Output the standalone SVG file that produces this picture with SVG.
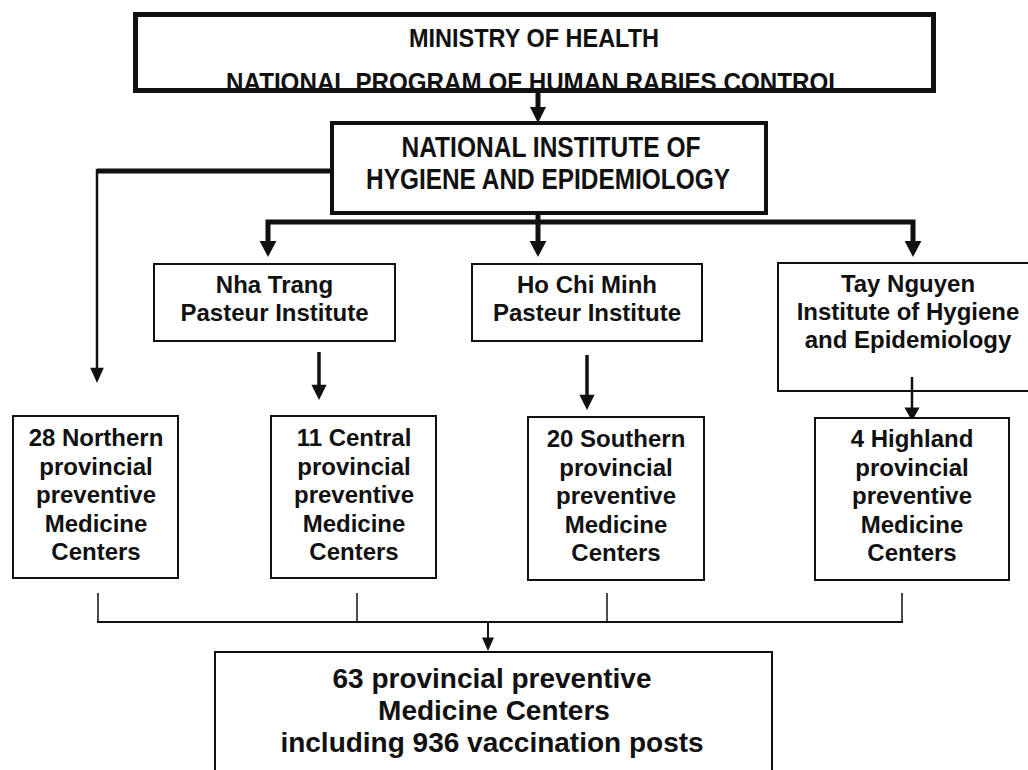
<svg xmlns="http://www.w3.org/2000/svg" xmlns:xlink="http://www.w3.org/1999/xlink" width="1028" height="770" viewBox="0 0 1028 770">
<style>
  .box { fill: #fff; stroke: #111; }
  .t { font-family: "Liberation Sans", Arial, sans-serif; font-weight: bold; fill: #111; text-anchor: middle; }
  .n { font-size: 26px; }
  .h { font-size: 29px; }
  .m { font-size: 24px; }
  .b { font-size: 28px; }
  .ln { fill: none; stroke: #111; }
  .hd { fill: #111; }
</style>
<defs>
  <path id="head" d="M-8,-16 L8,-16 L0,0 Z"/>
  <clipPath id="topclip"><rect x="133" y="12" width="803" height="76"/></clipPath>
</defs>
<rect width="1028" height="770" fill="#fff"/>

<g id="connectors">
  <line class="ln" x1="538" y1="93" x2="538" y2="110" stroke-width="5"/>
  <use xlink:href="#head" class="hd" transform="translate(538,123)"/>
  <polyline class="ln" points="332,171 97,171" stroke-width="5"/>
  <line class="ln" x1="97" y1="169" x2="97" y2="372" stroke-width="2.5"/>
  <use xlink:href="#head" class="hd" transform="translate(97,383) scale(0.85,0.95)"/>
  <line class="ln" x1="538" y1="213" x2="538" y2="244" stroke-width="5"/>
  <polyline class="ln" points="268,244 268,222 913,222 913,244" stroke-width="5"/>
  <use xlink:href="#head" class="hd" transform="translate(268,257) scale(1.05,1)"/>
  <use xlink:href="#head" class="hd" transform="translate(538,257) scale(1.05,1)"/>
  <use xlink:href="#head" class="hd" transform="translate(913,257) scale(1.05,1)"/>
  <line class="ln" x1="319" y1="352" x2="319" y2="388" stroke-width="3.5"/>
  <use xlink:href="#head" class="hd" transform="translate(319,400) scale(0.95,0.95)"/>
  <line class="ln" x1="587" y1="355" x2="587" y2="398" stroke-width="3.5"/>
  <use xlink:href="#head" class="hd" transform="translate(587,410) scale(0.95,0.95)"/>
  <line class="ln" x1="912" y1="377" x2="912" y2="410" stroke-width="2.5"/>
  <use xlink:href="#head" class="hd" transform="translate(912,421) scale(0.95,0.85)"/>
  <line class="ln" x1="98" y1="593" x2="98" y2="622" stroke-width="1.5"/>
  <line class="ln" x1="357" y1="593" x2="357" y2="622" stroke-width="1.5"/>
  <line class="ln" x1="607" y1="593" x2="607" y2="622" stroke-width="1.5"/>
  <line class="ln" x1="902" y1="593" x2="902" y2="622" stroke-width="1.5"/>
  <line class="ln" x1="97" y1="622" x2="903" y2="622" stroke-width="2"/>
  <line class="ln" x1="488" y1="622" x2="488" y2="640" stroke-width="2"/>
  <use xlink:href="#head" class="hd" transform="translate(488,651) scale(0.75,0.85)"/>
</g>

<g id="ministry">
  <rect class="box" x="135.5" y="14.5" width="798" height="76" stroke-width="5"/>
  <g clip-path="url(#topclip)">
    <text class="t n" x="534" y="47" textLength="250" lengthAdjust="spacingAndGlyphs">MINISTRY OF HEALTH</text>
    <text class="t n" x="534.5" y="91" textLength="617" lengthAdjust="spacingAndGlyphs">NATIONAL PROGRAM OF HUMAN RABIES CONTROL</text>
  </g>
  <rect x="135.5" y="14.5" width="798" height="76" fill="none" stroke="#111" stroke-width="5"/>
</g>

<g id="nihe">
  <rect class="box" x="332" y="123" width="434" height="90" stroke-width="4"/>
  <text class="t h" x="551" y="157" textLength="299" lengthAdjust="spacingAndGlyphs">NATIONAL INSTITUTE OF</text>
  <text class="t h" x="548" y="189" textLength="364" lengthAdjust="spacingAndGlyphs">HYGIENE AND EPIDEMIOLOGY</text>
</g>

<g id="nhatrang">
  <rect class="box" x="154" y="264" width="241" height="77" stroke-width="2"/>
  <text class="t m" x="274.5" y="293">Nha Trang</text>
  <text class="t m" x="274.5" y="321">Pasteur Institute</text>
</g>

<g id="hochiminh">
  <rect class="box" x="472" y="264" width="230" height="77" stroke-width="2"/>
  <text class="t m" x="587" y="293">Ho Chi Minh</text>
  <text class="t m" x="587" y="321">Pasteur Institute</text>
</g>

<g id="taynguyen">
  <rect class="box" x="778" y="263" width="262" height="128" stroke-width="2"/>
  <text class="t m" x="908" y="292">Tay Nguyen</text>
  <text class="t m" x="908" y="320">Institute of Hygiene</text>
  <text class="t m" x="908" y="348">and Epidemiology</text>
  <line class="ln" x1="912" y1="377" x2="912" y2="392" stroke-width="2.5"/>
</g>

<g id="northern">
  <rect class="box" x="13" y="416" width="165" height="162" stroke-width="2"/>
  <text class="t m" x="96" y="446">28 Northern</text>
  <text class="t m" x="96" y="474.5">provincial</text>
  <text class="t m" x="96" y="503">preventive</text>
  <text class="t m" x="96" y="531.5">Medicine</text>
  <text class="t m" x="96" y="560">Centers</text>
</g>

<g id="central">
  <rect class="box" x="271" y="416" width="165" height="162" stroke-width="2"/>
  <text class="t m" x="354" y="446">11 Central</text>
  <text class="t m" x="354" y="474.5">provincial</text>
  <text class="t m" x="354" y="503">preventive</text>
  <text class="t m" x="354" y="531.5">Medicine</text>
  <text class="t m" x="354" y="560">Centers</text>
</g>

<g id="southern">
  <rect class="box" x="528" y="417" width="176" height="163" stroke-width="2"/>
  <text class="t m" x="616" y="447">20 Southern</text>
  <text class="t m" x="616" y="475.5">provincial</text>
  <text class="t m" x="616" y="504">preventive</text>
  <text class="t m" x="616" y="532.5">Medicine</text>
  <text class="t m" x="616" y="561">Centers</text>
</g>

<g id="highland">
  <rect class="box" x="815" y="418" width="194" height="162" stroke-width="2"/>
  <text class="t m" x="912" y="447">4 Highland</text>
  <text class="t m" x="912" y="475.5">provincial</text>
  <text class="t m" x="912" y="504">preventive</text>
  <text class="t m" x="912" y="532.5">Medicine</text>
  <text class="t m" x="912" y="561">Centers</text>
</g>

<g id="total">
  <rect class="box" x="215" y="652" width="557" height="130" stroke-width="2"/>
  <text class="t b" x="492" y="688">63 provincial preventive</text>
  <text class="t b" x="494" y="720">Medicine Centers</text>
  <text class="t b" x="492" y="752">including 936 vaccination posts</text>
</g>
</svg>
